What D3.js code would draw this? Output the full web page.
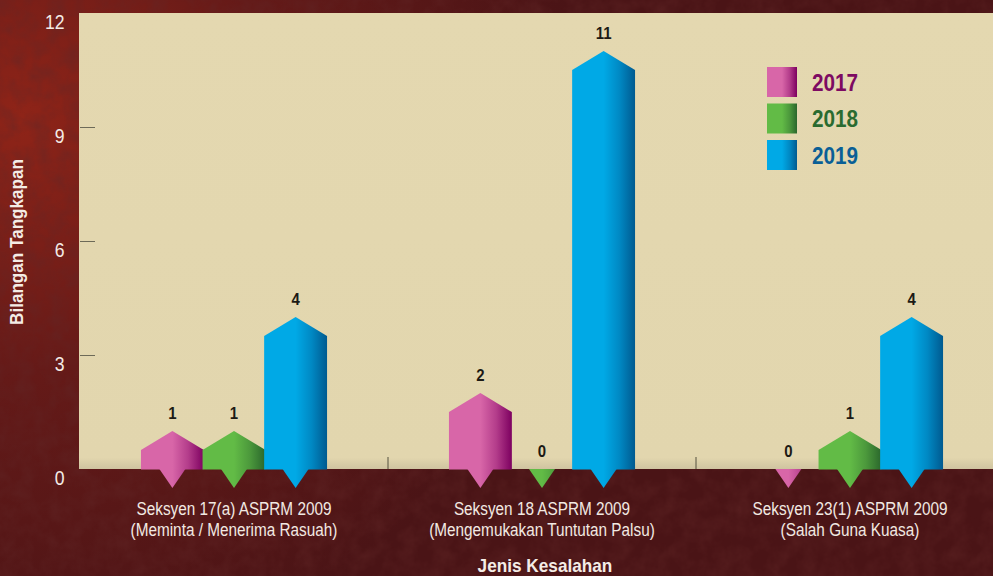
<!DOCTYPE html>
<html>
<head>
<meta charset="utf-8">
<script src="https://cdn.jsdelivr.net/npm/d3@7"></script>
<style>
  html, body { margin: 0; padding: 0; background: #4a1416; }
  svg { display: block; }
  text { font-family: "Liberation Sans", sans-serif; }
</style>
</head>
<body>
<div id="chart"></div>
<script>
const categories = ['s17', 's18', 's23'];
const categoryLine1 = ['Seksyen 17(a) ASPRM 2009', 'Seksyen 18 ASPRM 2009', 'Seksyen 23(1) ASPRM 2009'];
const categoryLine2 = ['(Meminta / Menerima Rasuah)', '(Mengemukakan Tuntutan Palsu)', '(Salah Guna Kuasa)'];
const years = ['2017', '2018', '2019'];
const values2017 = [1, 2, 0];
const values2018 = [1, 0, 1];
const values2019 = [4, 11, 4];
const yTicks = [0, 3, 6, 9, 12];

const seriesValues = [values2017, values2018, values2019];
const lightColors = ['#d866a8', '#62bb46', '#00a9e6'];
const darkColors = ['#7d0060', '#2a672c', '#005a90'];
const textColors = ['#7d0a62', '#2a6b30', '#0a5f96'];

const width = 993, height = 576;
const margin = {top: 13, right: -11, bottom: 107, left: 80};
const plotW = width - margin.left - margin.right;
const plotH = height - margin.top - margin.bottom;

// the original type is condensed, none is installed so squeeze the glyphs
function condense(sel, k) {
  sel.each(function () {
    d3.select(this)
      .attr('textLength', this.getComputedTextLength() * k)
      .attr('lengthAdjust', 'spacingAndGlyphs');
  });
}

const svg = d3.select('#chart').append('svg')
  .attr('width', width)
  .attr('height', height);
const defs = svg.append('defs');

// backdrop
const bgGrad = defs.append('radialGradient')
  .attr('id', 'bg-glow')
  .attr('gradientUnits', 'userSpaceOnUse')
  .attr('cx', 20).attr('cy', 120).attr('r', 560);
bgGrad.append('stop').attr('offset', 0).attr('stop-color', '#8f2418');
bgGrad.append('stop').attr('offset', 0.45).attr('stop-color', '#651a18');
bgGrad.append('stop').attr('offset', 1).attr('stop-color', '#4a1416');

const noise = defs.append('filter').attr('id', 'grain')
  .attr('x', 0).attr('y', 0).attr('width', '100%').attr('height', '100%');
noise.append('feTurbulence')
  .attr('type', 'fractalNoise')
  .attr('baseFrequency', 0.06)
  .attr('numOctaves', 4)
  .attr('seed', 4);
noise.append('feColorMatrix')
  .attr('type', 'matrix')
  .attr('values', '0 0 0 0 0.12  0 0 0 0 0.02  0 0 0 0 0.02  1.6 0 0 0 -0.52');

svg.append('rect').attr('width', width).attr('height', height).attr('fill', 'url(#bg-glow)');
svg.append('rect').attr('width', width).attr('height', height).attr('filter', 'url(#grain)').attr('opacity', 0.5);

// plot panel, fades slightly darker toward the baseline
const panelGrad = defs.append('linearGradient')
  .attr('id', 'panel').attr('x1', 0).attr('x2', 0).attr('y1', 0).attr('y2', 1);
panelGrad.append('stop').attr('offset', 0).attr('stop-color', '#e4d8b0');
panelGrad.append('stop').attr('offset', 0.975).attr('stop-color', '#e2d6ae');
panelGrad.append('stop').attr('offset', 1).attr('stop-color', '#cfc4a0');

const g = svg.append('g').attr('transform', `translate(${margin.left},${margin.top})`);

g.append('rect')
  .attr('x', -1)
  .attr('width', plotW + 1)
  .attr('height', plotH)
  .attr('fill', 'url(#panel)');

const x0 = d3.scaleBand().domain(categories).range([0, plotW]);
const x1 = d3.scaleBand().domain(years).range([0, x0.bandwidth()]).paddingInner(0).paddingOuter(1);
const y = d3.scaleLinear().domain([0, 12]).range([plotH, 0]);

years.forEach((yr, i) => {
  const bar = defs.append('linearGradient').attr('id', 'bar-' + yr);
  bar.append('stop').attr('offset', 0).attr('stop-color', lightColors[i]);
  bar.append('stop').attr('offset', 0.5).attr('stop-color', lightColors[i]);
  bar.append('stop').attr('offset', 0.75).attr('stop-color', d3.interpolateRgb(lightColors[i], darkColors[i])(0.4));
  bar.append('stop').attr('offset', 1).attr('stop-color', darkColors[i]);
  const tip = defs.append('linearGradient').attr('id', 'tip-' + yr);
  tip.append('stop').attr('offset', 0).attr('stop-color', lightColors[i]);
  tip.append('stop').attr('offset', 0.5).attr('stop-color', lightColors[i]);
  tip.append('stop').attr('offset', 1).attr('stop-color', d3.interpolateRgb(lightColors[i], darkColors[i])(0.35));
});

// axes
const yAxis = d3.axisLeft(y).tickValues(yTicks).tickSize(0).tickPadding(15.5);
const yG = g.append('g').attr('class', 'y axis').call(yAxis);
yG.select('.domain').remove();
yG.selectAll('text')
  .attr('dy', 15)
  .style('font-size', '20px')
  .attr('fill', '#f4ece6')
  .call(condense, 0.88);

g.append('g').selectAll('line')
  .data(yTicks.filter(d => d > 0 && d < 12))
  .join('line')
  .attr('x1', 0).attr('x2', 15)
  .attr('y1', d => y(d) + 0.5).attr('y2', d => y(d) + 0.5)
  .attr('stroke', '#6d6a58')
  .attr('stroke-width', 1);

g.append('g').selectAll('line')
  .data(categories.slice(1))
  .join('line')
  .attr('x1', d => x0(d)).attr('x2', d => x0(d))
  .attr('y1', plotH - 12).attr('y2', plotH)
  .attr('stroke', '#55503f')
  .attr('stroke-width', 1);

// bars: a pentagon with a peak on top, a small point under the baseline
const barW = x1.bandwidth() + 1.3;
const peak = 0.5;
const tipW = 13;
const tipH = 19;
const outline = d3.line();

const groups = g.selectAll('.group')
  .data(categories)
  .join('g')
  .attr('class', 'group')
  .attr('transform', d => `translate(${x0(d)},0)`);

groups.each(function (cat, c) {
  const sel = d3.select(this);
  years.forEach((yr, i) => {
    const v = seriesValues[i][c];
    const mid = x1(yr) + x1.bandwidth() / 2;
    const left = mid - barW / 2;
    const right = mid + barW / 2;

    sel.append('path')
      .attr('d', outline([[mid - tipW, plotH], [mid + tipW, plotH], [mid, plotH + tipH]]) + 'Z')
      .attr('fill', `url(#tip-${yr})`);

    if (v > 0) {
      sel.append('path')
        .attr('d', outline([
          [left, plotH + 0.5],
          [left, y(v - peak)],
          [mid, y(v)],
          [right, y(v - peak)],
          [right, plotH + 0.5]
        ]) + 'Z')
        .attr('fill', `url(#bar-${yr})`);
    }

    sel.append('text')
      .attr('x', mid)
      .attr('y', y(v) - 12)
      .attr('text-anchor', 'middle')
      .style('font-size', '17px')
      .style('font-weight', 'bold')
      .attr('fill', '#1c1a14')
      .text(v)
      .call(condense, 0.88);
  });
});

// category labels, two lines each
[categoryLine1, categoryLine2].forEach((lines, j) => {
  g.append('g').selectAll('text')
    .data(categories)
    .join('text')
    .attr('text-anchor', 'middle')
    .attr('x', d => x0(d) + x0.bandwidth() / 2)
    .attr('y', plotH + 46 + j * 20.5)
    .style('font-size', '17.5px')
    .attr('fill', '#f2e9e2')
    .text((d, i) => lines[i])
    .call(condense, 0.875);
});

// axis titles
svg.append('text')
  .attr('transform', 'translate(23,242) rotate(-90)')
  .attr('text-anchor', 'middle')
  .style('font-size', '19px')
  .style('font-weight', 'bold')
  .attr('fill', '#f4ece6')
  .text('Bilangan Tangkapan')
  .call(condense, 0.9);

svg.append('text')
  .attr('x', 545)
  .attr('y', 572)
  .attr('text-anchor', 'middle')
  .style('font-size', '19px')
  .style('font-weight', 'bold')
  .attr('fill', '#f4ece6')
  .text('Jenis Kesalahan')
  .call(condense, 0.905);

// legend
const legend = svg.append('g').attr('transform', 'translate(767,67)');
const legendY = d3.scalePoint().domain(years).range([0, 73]);
const rows = legend.selectAll('g')
  .data(years)
  .join('g')
  .attr('transform', d => `translate(0,${legendY(d)})`);
rows.append('rect')
  .attr('width', 30)
  .attr('height', 30)
  .attr('fill', d => `url(#bar-${d})`);
rows.append('text')
  .attr('x', 45)
  .attr('y', 23.5)
  .style('font-size', '23px')
  .style('font-weight', 'bold')
  .attr('fill', (d, i) => textColors[i])
  .text(d => d)
  .call(condense, 0.9);
</script>
</body>
</html>
